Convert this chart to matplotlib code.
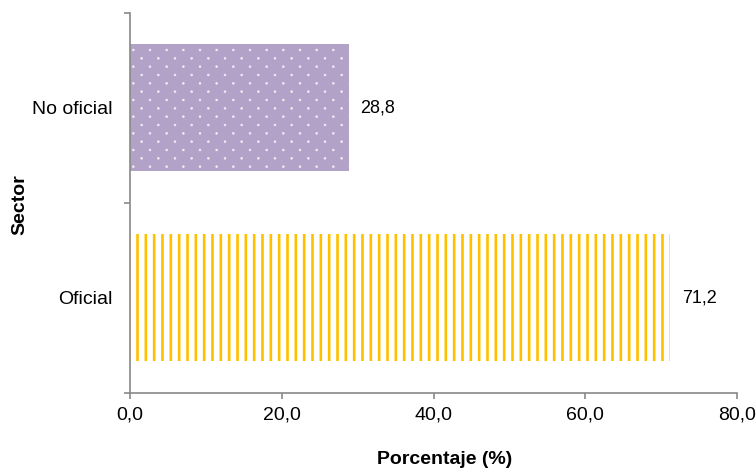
import numpy as np
import matplotlib
matplotlib.use("Agg")
import matplotlib.pyplot as plt
import matplotlib.hatch as mhatch
from matplotlib.path import Path

# ---------------- data ----------------
categories = ["Oficial", "No oficial"]
values = [71.2, 28.8]
xticks = [0, 20, 40, 60, 80]
xlabel = "Porcentaje (%)"
ylabel = "Sector"


# ---------- staggered dot texture (fill pattern for the purple bar) ----------
class StaggeredDots(mhatch.HatchPatternBase):
    def __init__(self, hatch, density):
        n = hatch.count('.') * density
        self.n = n
        circ = Path.unit_circle()
        self.cv, self.cc = circ.vertices, circ.codes
        pts = []
        if n:
            for r in range(n + 1):
                for c in range(r % 2, n + 1, 2):
                    pts.append((c / n, r / n))
        self.pts = pts
        self.num_vertices = len(pts) * len(self.cv)

    def set_vertices_and_codes(self, vertices, codes):
        k = len(self.cv)
        rad = 0.11 / self.n
        for i, (x, y) in enumerate(self.pts):
            vertices[i * k:(i + 1) * k] = self.cv * rad + np.array([x, y])
            codes[i * k:(i + 1) * k] = self.cc


_ht = mhatch._hatch_types
_ht[_ht.index(mhatch.SmallFilledCircles)] = StaggeredDots

plt.rcParams['font.family'] = ['Liberation Sans', 'DejaVu Sans']

fig = plt.figure(figsize=(7.56, 4.68), dpi=100)
ax = fig.add_axes([130 / 756, 1 - 392.5 / 468, (737 - 130) / 756, (392.5 - 13) / 468])

ypos = np.arange(len(categories))
styles = [
    dict(facecolor='white', edgecolor='#FFC000', hatch='||', hlw=1.9),
    dict(facecolor='#B3A2C7', edgecolor='#F2EEF6', hatch='..', hlw=0.45),
]
bars = []
for i, (cat, val) in enumerate(zip(categories, values)):
    st = styles[i]
    with plt.rc_context({'hatch.linewidth': st['hlw']}):
        b = ax.barh(ypos[i], val, height=0.67, facecolor=st['facecolor'],
                    edgecolor=st['edgecolor'], hatch=st['hatch'], linewidth=0)
    for p in b:
        if hasattr(p, 'set_hatch_linewidth'):
            p.set_hatch_linewidth(st['hlw'])
    bars.append(b)
    ax.annotate(f"{val:.1f}".replace('.', ','), xy=(val, ypos[i]),
                xytext=(12, 0), textcoords='offset pixels',
                ha='left', va='center', fontsize=13, color='black')

ax.set_xlim(0, 80)
ax.set_ylim(-0.5, len(categories) - 0.5)

ax.set_xticks(xticks)
ax.set_xticklabels([f"{v:.1f}".replace('.', ',') for v in xticks], fontsize=14)
ax.set_yticks(np.arange(-0.5, len(categories), 1.0))
ax.set_yticklabels([])
ax.set_yticks(ypos, labels=categories, minor=True)

spine_col = '#898989'
for s in ['top', 'right']:
    ax.spines[s].set_visible(False)
for s in ['left', 'bottom']:
    ax.spines[s].set_color(spine_col)
    ax.spines[s].set_linewidth(1.2)

ax.tick_params(axis='x', which='major', direction='out', length=4.3, width=1.2,
               color=spine_col, pad=5.5, labelsize=14)
ax.tick_params(axis='y', which='major', direction='out', length=4.3, width=1.2,
               color=spine_col)
ax.tick_params(axis='y', which='minor', length=0, pad=12.5, labelsize=14)

fig.text(445 / 756, 1 - 459 / 468, xlabel, ha='center', va='center',
         fontsize=14, fontweight='bold')
fig.text(19.5 / 756, 1 - 205 / 468, ylabel, ha='center', va='center',
         rotation=90, fontsize=14, fontweight='bold')

fig.savefig('out.png', dpi=100)
